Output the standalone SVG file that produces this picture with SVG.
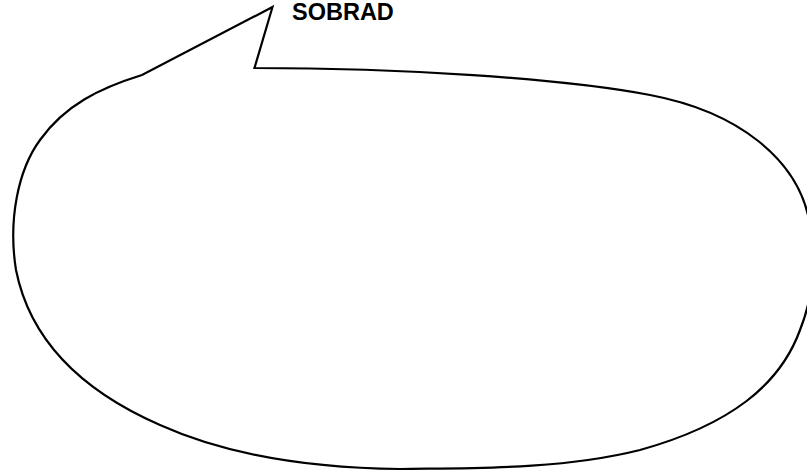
<svg xmlns="http://www.w3.org/2000/svg" width="807" height="471" viewBox="0 0 807 471">
<style>
.bubble{fill:#ffffff;stroke:#000000;stroke-width:2.2;stroke-linejoin:miter}
.label{font-family:"Liberation Sans",Arial,sans-serif;font-weight:bold;font-size:23.5px;fill:#000000}
</style>
<rect width="807" height="471" fill="#ffffff"/>
<g id="bubble">
<path class="bubble" d="M 272.5,7 L 254.5,68 C 400,68 560,78 650,95 C 740,112 795,160 808,215 C 818,262 812,300 800,330 C 780,385 730,425 640,450 C 560,470 470,468 400,469 C 300,468 220,452 160,425 C 80,390 30,340 16,270 C 8,220 18,170 40,140 C 65,105 100,88 142,75 Z"/>
</g>
<g id="title">
<text class="label" x="292" y="20">SOBRAD</text>
</g>
</svg>
